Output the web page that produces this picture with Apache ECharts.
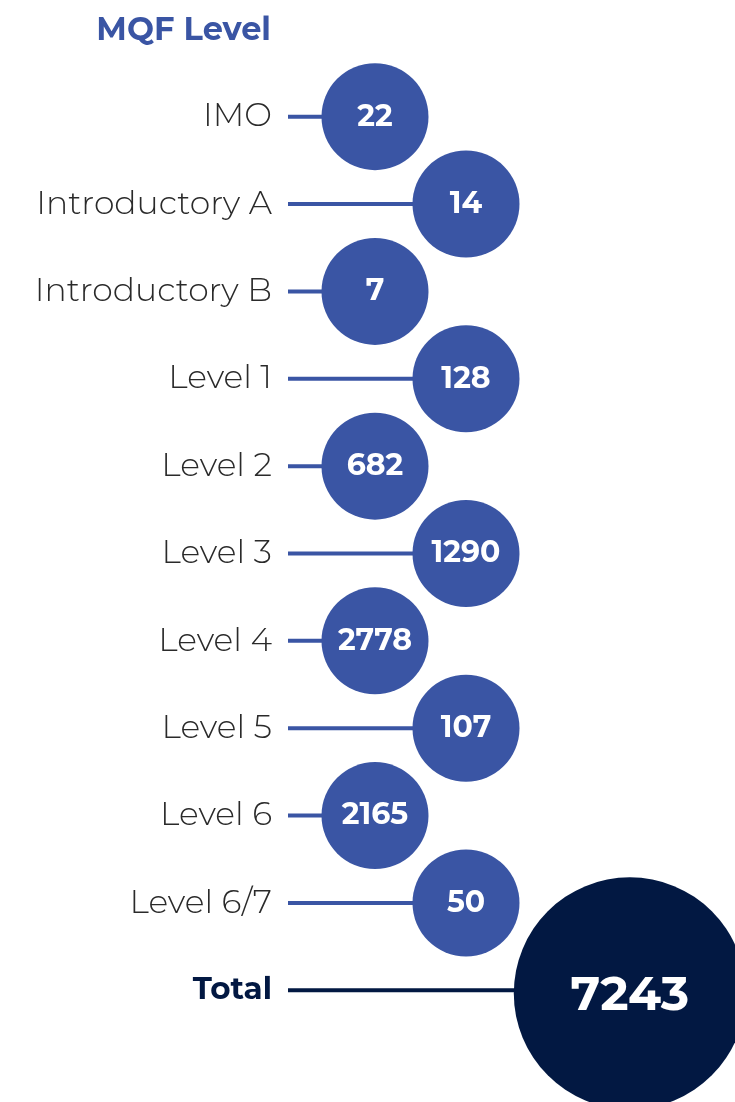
<!DOCTYPE html>
<html>
<head>
<meta charset="utf-8">
<script src="https://cdn.jsdelivr.net/npm/echarts@6/dist/echarts.min.js"></script>
<style>
html,body{margin:0;padding:0;background:#fff;}
#main{width:735px;height:1102px;}
</style>
</head>
<body>
<div id="main"></div>
<script>
var levels = ['IMO', 'Introductory A', 'Introductory B', 'Level 1', 'Level 2', 'Level 3', 'Level 4', 'Level 5', 'Level 6', 'Level 6/7', 'Total'];
var counts = [22, 14, 7, 128, 682, 1290, 2778, 107, 2165, 50, 7243];

var blue = '#3A55A4';
var navy = '#021842';
var font = 'Montserrat, "Open Sans", Lato, sans-serif';

// circles zig-zag between two columns, total sits further right
var points = counts.map(function (v, i) {
  var isTotal = i === levels.length - 1;
  var col = isTotal ? 2.8 : i % 2;
  return {
    value: [col, i, v],
    symbolSize: isTotal ? 232 : 107,
    symbolOffset: isTotal ? [0, 3] : [0, 0],
    itemStyle: { color: isTotal ? navy : blue, opacity: 1 },
    label: isTotal ? { fontSize: 48, fontWeight: 'bold', offset: [0, 3] } : {}
  };
});

var myChart = echarts.init(document.getElementById('main'));
option = {
  backgroundColor: '#fff',
  title: {
    text: 'MQF Level',
    right: 459,
    top: 10,
    textStyle: { color: blue, fontSize: 32, fontWeight: 'bold', fontFamily: font }
  },
  grid: { left: 288, right: 0, top: 73, bottom: 68 },
  xAxis: {
    type: 'value',
    min: -0.956,
    max: 3.956,
    show: false
  },
  yAxis: {
    type: 'category',
    data: levels,
    inverse: true,
    axisLine: { show: false },
    axisTick: { show: false },
    splitLine: { show: false },
    axisLabel: {
      margin: 16,
      fontFamily: font,
      formatter: function (v) {
        return v === 'Total' ? '{t|' + v + '}' : '{n|' + v + '}';
      },
      rich: {
        n: { fontSize: 33, fontWeight: 300, color: '#2a2a2a', fontFamily: font },
        t: { fontSize: 31, fontWeight: 'bold', color: navy, fontFamily: font }
      }
    }
  },
  series: [
    {
      type: 'custom',
      z: 1,
      data: points.map(function (p) { return p.value; }),
      renderItem: function (params, api) {
        var i = api.value(1);
        var start = api.coord([-0.956, i]);
        var end = api.coord([api.value(0), i]);
        return {
          type: 'line',
          shape: { x1: start[0], y1: start[1], x2: end[0], y2: end[1] },
          style: { stroke: i === levels.length - 1 ? navy : blue, lineWidth: 4 }
        };
      }
    },
    {
      type: 'scatter',
      z: 3,
      data: points,
      label: {
        show: true,
        position: 'inside',
        color: '#fff',
        fontSize: 30,
        fontWeight: 'bold',
        fontFamily: font,
        formatter: function (p) { return p.value[2]; }
      }
    }
  ]
};
myChart.setOption(option);
</script>
</body>
</html>
